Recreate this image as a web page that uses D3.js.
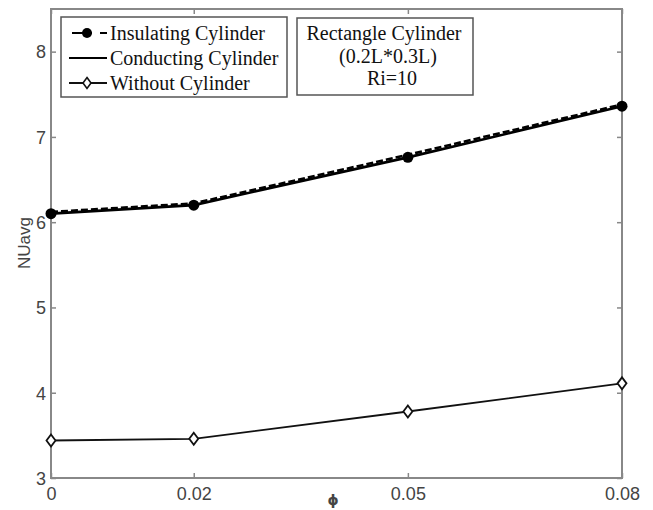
<!DOCTYPE html>
<html><head><meta charset="utf-8">
<script src="https://cdn.jsdelivr.net/npm/d3@7"></script>
<style>body{margin:0;background:#fff}</style>
</head><body>
<svg id="c" width="653" height="510"></svg>
<script>
const phi = [0, 0.02, 0.05, 0.08];
const insulating = [6.10, 6.20, 6.76, 7.36];
const conducting = [6.12, 6.22, 6.79, 7.38];
const without = [3.44, 3.46, 3.78, 4.11];
const xTicks = [0, 0.02, 0.05, 0.08];
const xTickLabels = ["0", "0.02", "0.05", "0.08"];
const yTicks = [3, 4, 5, 6, 7, 8];
const legendLabels = ["Insulating Cylinder", "Conducting Cylinder", "Without Cylinder"];
const noteLines = ["Rectangle Cylinder", "(0.2L*0.3L)", "Ri=10"];

const svg = d3.select("#c");
const L = 51, R = 622, T = 9, B = 478;
const x = d3.scaleLinear().domain([0, 0.08]).range([L, R]);
const y = d3.scaleLinear().domain([3, 8.5]).range([B, T]);
const axisColor = "#888";
const sans = "'Liberation Sans', Arial, sans-serif";
const serif = "'Liberation Serif', 'Times New Roman', serif";

// frame
svg.append("rect").attr("x", L).attr("y", T).attr("width", R - L).attr("height", B - T)
  .attr("fill", "none").attr("stroke", axisColor).attr("stroke-width", 2);

// axes with inward ticks
const fmtX = (d) => xTickLabels[xTicks.indexOf(d)];
const gxB = svg.append("g").attr("transform", `translate(0,${B})`)
  .call(d3.axisBottom(x).tickValues(xTicks).tickFormat(fmtX).tickSizeInner(-5).tickSizeOuter(0).tickPadding(9));
const gxT = svg.append("g").attr("transform", `translate(0,${T})`)
  .call(d3.axisTop(x).tickValues(xTicks).tickFormat("").tickSizeInner(-5).tickSizeOuter(0));
const gyL = svg.append("g").attr("transform", `translate(${L},0)`)
  .call(d3.axisLeft(y).tickValues(yTicks).tickFormat(d3.format("d")).tickSizeInner(-5).tickSizeOuter(0).tickPadding(5));
const gyR = svg.append("g").attr("transform", `translate(${R},0)`)
  .call(d3.axisRight(y).tickValues(yTicks).tickFormat("").tickSizeInner(-5).tickSizeOuter(0));
[gxB, gxT, gyL, gyR].forEach(g => {
  g.select(".domain").remove();
  g.selectAll(".tick line").attr("stroke", axisColor).attr("stroke-width", 1.5);
  g.selectAll(".tick text").attr("fill", "#444").style("font-family", sans).style("font-size", "18px");
});
gyL.selectAll(".tick text").attr("dy", "0.35em");

// axis titles
svg.append("text").attr("transform", `translate(30,243) rotate(-90)`).attr("text-anchor", "middle")
  .style("font-family", sans).style("font-size", "17px").attr("fill", "#444").text("NUavg");
svg.append("text").attr("x", 333).attr("y", 505).attr("text-anchor", "middle")
  .style("font-family", "'DejaVu Sans', sans-serif").style("font-size", "14px").style("font-weight", "bold")
  .attr("fill", "#444").text("ϕ");

// data lines
const line = (vals) => d3.line().x((d, i) => x(phi[i])).y(d => y(d))(vals);
svg.append("path").attr("d", line(without)).attr("fill", "none").attr("stroke", "#111").attr("stroke-width", 1.8);
svg.append("path").attr("d", line(insulating)).attr("fill", "none").attr("stroke", "#000").attr("stroke-width", 2.6);
svg.append("path").attr("d", line(conducting)).attr("fill", "none").attr("stroke", "#000").attr("stroke-width", 2.6)
  .attr("stroke-dasharray", "7,3");

// markers
const diamond = (cx, cy, w, h) => `M${cx},${cy - h}L${cx + w},${cy}L${cx},${cy + h}L${cx - w},${cy}Z`;
svg.append("g").selectAll("circle").data(insulating).join("circle")
  .attr("cx", (d, i) => x(phi[i])).attr("cy", d => y(d)).attr("r", 5.5).attr("fill", "#000");
svg.append("g").selectAll("path").data(without).join("path")
  .attr("d", (d, i) => diamond(x(phi[i]), y(d), 4.5, 6))
  .attr("fill", "#fff").attr("stroke", "#111").attr("stroke-width", 1.8);

// legend box
svg.append("rect").attr("x", 61).attr("y", 17).attr("width", 226).attr("height", 80)
  .attr("fill", "#fff").attr("stroke", "#555").attr("stroke-width", 1.5);
const lg = svg.append("g");
legendLabels.forEach((lab, i) => {
  const cy = 33 + i * 25;
  if (i === 0) {
    lg.append("line").attr("x1", 72).attr("x2", 92).attr("y1", cy).attr("y2", cy).attr("stroke", "#000").attr("stroke-width", 2);
    lg.append("line").attr("x1", 100).attr("x2", 107).attr("y1", cy).attr("y2", cy).attr("stroke", "#000").attr("stroke-width", 2);
    lg.append("circle").attr("cx", 87).attr("cy", cy).attr("r", 5).attr("fill", "#000");
  } else if (i === 1) {
    lg.append("line").attr("x1", 69).attr("x2", 107).attr("y1", cy).attr("y2", cy).attr("stroke", "#000").attr("stroke-width", 2);
  } else {
    lg.append("line").attr("x1", 69).attr("x2", 107).attr("y1", cy).attr("y2", cy).attr("stroke", "#111").attr("stroke-width", 1.8);
    lg.append("path").attr("d", diamond(87, cy, 4, 5.5)).attr("fill", "#fff").attr("stroke", "#111").attr("stroke-width", 1.6);
  }
  lg.append("text").attr("x", 110).attr("y", cy + 6.5).style("font-family", serif).style("font-size", "20px")
    .attr("fill", "#111").text(lab);
});

// note box
svg.append("rect").attr("x", 297).attr("y", 18).attr("width", 176).attr("height", 77)
  .attr("fill", "#fff").attr("stroke", "#555").attr("stroke-width", 1.5);
const noteX = [384, 388, 392];
const noteY = [40, 63, 85];
noteLines.forEach((t, i) => {
  svg.append("text").attr("x", noteX[i]).attr("y", noteY[i]).attr("text-anchor", "middle")
    .style("font-family", serif).style("font-size", "20px").attr("fill", "#111").text(t);
});
</script>
</body></html>
